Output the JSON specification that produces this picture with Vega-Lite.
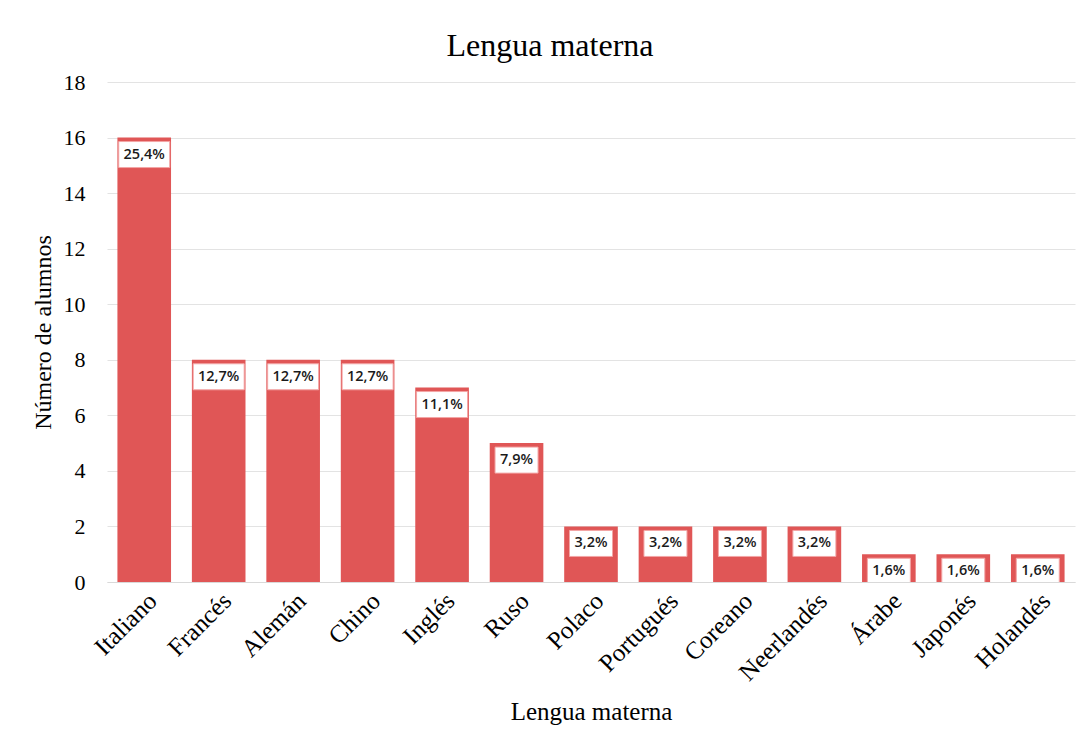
{
  "$schema": "https://vega.github.io/schema/vega-lite/v6.json",
  "width": 968,
  "height": 500,
  "autosize": {"type": "none"},
  "padding": {"left": 107, "top": 82, "right": 6, "bottom": 158},
  "background": "white",
  "title": {
    "text": "Lengua materna",
    "font": "Liberation Serif",
    "fontSize": 32,
    "fontWeight": "normal",
    "color": "#000000",
    "anchor": "middle",
    "dx": -41,
    "offset": 8
  },
  "data": {
    "values": [
      {"lengua": "Italiano", "alumnos": 16, "pct": "25,4%"},
      {"lengua": "Francés", "alumnos": 8, "pct": "12,7%"},
      {"lengua": "Alemán", "alumnos": 8, "pct": "12,7%"},
      {"lengua": "Chino", "alumnos": 8, "pct": "12,7%"},
      {"lengua": "Inglés", "alumnos": 7, "pct": "11,1%"},
      {"lengua": "Ruso", "alumnos": 5, "pct": "7,9%"},
      {"lengua": "Polaco", "alumnos": 2, "pct": "3,2%"},
      {"lengua": "Portugués", "alumnos": 2, "pct": "3,2%"},
      {"lengua": "Coreano", "alumnos": 2, "pct": "3,2%"},
      {"lengua": "Neerlandés", "alumnos": 2, "pct": "3,2%"},
      {"lengua": "Árabe", "alumnos": 1, "pct": "1,6%"},
      {"lengua": "Japonés", "alumnos": 1, "pct": "1,6%"},
      {"lengua": "Holandés", "alumnos": 1, "pct": "1,6%"}
    ]
  },
  "encoding": {
    "x": {
      "field": "lengua",
      "type": "nominal",
      "sort": null,
      "scale": {"paddingInner": 0.28, "paddingOuter": 0.14},
      "axis": {
        "title": "Lengua materna",
        "titleFont": "Liberation Serif",
        "titleFontSize": 25,
        "titleFontWeight": "normal",
        "titleColor": "#000000",
        "titlePadding": 14,
        "labelFont": "Liberation Serif",
        "labelFontSize": 25,
        "labelColor": "#000000",
        "labelAngle": -45,
        "labelPadding": 6,
        "ticks": false,
        "domainColor": "#d9d9d9",
        "domainWidth": 1
      }
    },
    "y": {
      "field": "alumnos",
      "type": "quantitative",
      "scale": {"domain": [0, 18], "nice": false},
      "axis": {
        "title": "Número de alumnos",
        "titleFont": "Liberation Serif",
        "titleFontSize": 24,
        "titleFontWeight": "normal",
        "titleColor": "#000000",
        "titlePadding": 8,
        "labelFont": "Liberation Serif",
        "labelFontSize": 22,
        "labelColor": "#000000",
        "labelPadding": 22,
        "values": [0, 2, 4, 6, 8, 10, 12, 14, 16, 18],
        "ticks": false,
        "domain": false,
        "gridColor": "#e3e3e3",
        "gridWidth": 1
      }
    }
  },
  "layer": [
    {
      "mark": {"type": "bar", "color": "#E05656"}
    },
    {
      "mark": {
        "type": "point",
        "filled": true,
        "fill": "white",
        "stroke": "#F3A5A5",
        "strokeWidth": 1,
        "opacity": 1,
        "fillOpacity": 1,
        "size": 2704,
        "yOffset": 17,
        "clip": true
      },
      "encoding": {
        "shape": {
          "condition": {"test": "length(datum.pct) > 4", "value": "M-0.981,-0.5L0.981,-0.5L0.981,0.5L-0.981,0.5Z"},
          "value": "M-0.827,-0.5L0.827,-0.5L0.827,0.5L-0.827,0.5Z"
        }
      }
    },
    {
      "mark": {
        "type": "text",
        "font": "Open Sans",
        "fontSize": 14.5,
        "fontWeight": 600,
        "color": "#1a1a1a",
        "baseline": "middle",
        "align": "center",
        "yOffset": 17,
        "clip": true
      },
      "encoding": {"text": {"field": "pct"}}
    }
  ],
  "config": {"view": {"stroke": null}}
}
